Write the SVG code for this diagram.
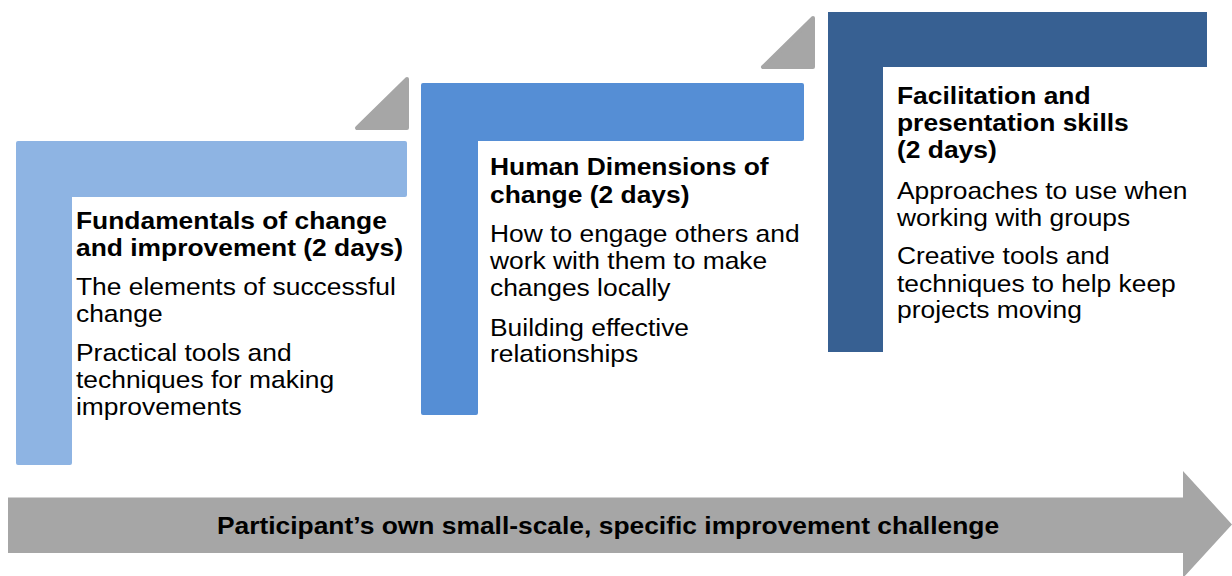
<svg xmlns="http://www.w3.org/2000/svg" width="1232" height="576" viewBox="0 0 1232 576">
<style>
text{font-family:"Liberation Sans",Arial,sans-serif;font-size:24px;fill:#000}
.t{font-weight:bold}
.tri{fill:#A6A6A6;stroke:#A6A6A6;stroke-width:4;stroke-linejoin:round}
</style>
<rect width="1232" height="576" fill="#fff"/>
<g id="arrow">
<polygon points="8,497.5 1183,497.5 1183,471 1232,524.5 1183,578 1183,553 8,553" fill="#A6A6A6"/>
<g transform="translate(608 0) scale(1.1 1)"><text class="t" x="0" y="534.5" text-anchor="middle">Participant’s own small-scale, specific improvement challenge</text></g>
</g>
<g id="connectors">
<polygon class="tri" points="357,128 407,128 407,79"/>
<polygon class="tri" points="763,67 813,67 813,18"/>
</g>
<g id="step1">
<path d="M18,141 H405 Q407,141 407,143 V195 Q407,197 405,197 H72 V463 Q72,465 70,465 H18 Q16,465 16,463 V143 Q16,141 18,141 Z" fill="#8EB4E3"/>
<g transform="translate(76 0) scale(1.1 1)">
<text class="t" x="0" y="229">Fundamentals of change</text>
<text class="t" x="0" y="255.7">and improvement (2 days)</text>
<text x="0" y="295">The elements of successful</text>
<text x="0" y="321.7">change</text>
<text x="0" y="360.7">Practical tools and</text>
<text x="0" y="387.7">techniques for making</text>
<text x="0" y="415">improvements</text>
</g>
</g>
<g id="step2">
<path d="M423,83 H802 Q804,83 804,85 V139 Q804,141 802,141 H478 V413 Q478,415 476,415 H423 Q421,415 421,413 V85 Q421,83 423,83 Z" fill="#558ED5"/>
<g transform="translate(490 0) scale(1.1 1)">
<text class="t" x="0" y="175">Human Dimensions of</text>
<text class="t" x="0" y="202.7">change (2 days)</text>
<text x="0" y="241.7">How to engage others and</text>
<text x="0" y="269">work with them to make</text>
<text x="0" y="296">changes locally</text>
<text x="0" y="335.7">Building effective</text>
<text x="0" y="362.3">relationships</text>
</g>
</g>
<g id="step3">
<path d="M828,12 H1207 V67 H883 V352 H828 Z" fill="#376092"/>
<g transform="translate(897 0) scale(1.1 1)">
<text class="t" x="0" y="104.3">Facilitation and</text>
<text class="t" x="0" y="131.5">presentation skills</text>
<text class="t" x="0" y="158">(2 days)</text>
<text x="0" y="199">Approaches to use when</text>
<text x="0" y="225.7">working with groups</text>
<text x="0" y="264.3">Creative tools and</text>
<text x="0" y="291.7">techniques to help keep</text>
<text x="0" y="318.3">projects moving</text>
</g>
</g>
</svg>
